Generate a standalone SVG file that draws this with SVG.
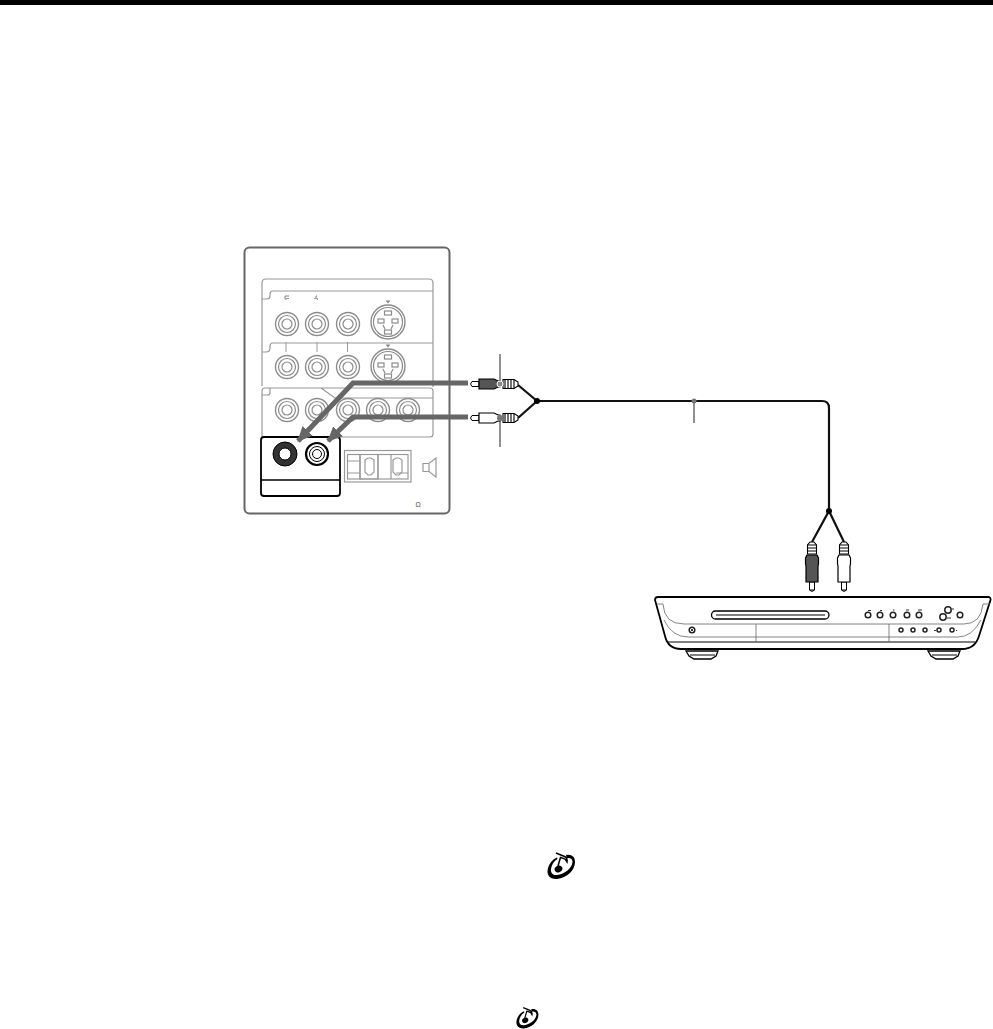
<svg xmlns="http://www.w3.org/2000/svg" width="993" height="1029" viewBox="0 0 993 1029">
<style>
.g{fill:none;stroke:#8c8c8c;stroke-width:1.2}
.gj{fill:#fff;stroke:#8c8c8c;stroke-width:1.4}
.frame{fill:none;stroke:#999;stroke-width:1.2}
.k{fill:none;stroke:#000;stroke-width:2}
.cable{fill:none;stroke:#111;stroke-width:2.2}
.lead{fill:none;stroke:#777;stroke-width:1.6}
.arrow{fill:none;stroke:#666;stroke-width:5}
.line{fill:none;stroke:#000;stroke-width:1.2}
.thin{fill:none;stroke:#666;stroke-width:.8}
.btn{fill:#fff;stroke:#222;stroke-width:1.5}
</style>
<defs>
<marker id="ah" markerUnits="userSpaceOnUse" markerWidth="18" markerHeight="16" refX="14" refY="7" orient="auto"><path d="M0 0L15 7L0 14Z" fill="#666"/></marker>
<g id="jack"><circle r="11.5" class="gj"/><circle r="8.5" class="g"/><circle r="5" class="g"/></g>
<g id="svid"><circle r="17" class="gj"/><circle r="14.5" class="g"/><g class="g"><rect x="-3.5" y="-11" width="7" height="4"/><rect x="-10" y="-3" width="6" height="4"/><rect x="4" y="-3" width="6" height="4"/><rect x="-10" y="5" width="0" height="0"/><rect x="-3.5" y="8" width="7" height="4"/><path d="M-5 3L-3 7M5 3L3 7"/></g><path d="M-2.500-21.500h5l-2.500 3z" fill="#888"/></g>
<g id="plugH"><path d="M2 -2.500H9V2.500H2Q-1 0 2-2.500Z" fill="#fff" stroke="#000"/><path d="M9-5H24L28-3H30V3H28L24 5H9Z" stroke="#000" stroke-width="1.200"/><g stroke="#000" stroke-width="1.100"><path d="M33-4.500H44L48-2V2L44 4.500H33Z" fill="#fff"/><path d="M35-4.500V4.500M38-4.500V4.500M41-4.500V4.500M44-4.500V4.500"/></g></g>
<g id="plugV"><path d="M-2.500 48H2.500V40H-2.500ZM-2.500 48Q0 51 2.500 48" fill="#fff" stroke="#000"/><path d="M-6 40V24L-6.500 22V16L-5 13H5L6.500 16V22L6 24V40Z" stroke="#000" stroke-width="1.200"/><g stroke="#000" stroke-width="1.100" fill="#fff"><path d="M-4.500 12V3L-2 0H2L4.500 3V12Z"/><path d="M-4.500 3H4.500M-4.500 6H4.500M-4.500 9H4.500" fill="none"/></g></g>
<g id="note"><path d="M19 4C25 3 28 6 28 11C28 19 20 27 10 28C3 28.500 -1 24 1 17C2.500 12 6 8 10 6.500L10.500 8C7 10 4.500 14 4 18C3.500 22 6 24.500 10 24C18 23 25 17 25.500 11C25.700 8 23.500 6.500 19.500 7Z" fill="#000"/><path d="M9 2L17.500 5.500C19.500 6.500 20.500 8.500 20 11L18.500 8.500C17 7.500 15.500 7 13.500 6.500L11 15" fill="none" stroke="#000" stroke-width="1.500"/><ellipse cx="11.500" cy="18" rx="4" ry="3.200" transform="rotate(-25 11.500 18)" fill="#000"/></g>
</defs>
<rect id="top-bar" x="0" y="0" width="993" height="5" fill="#000"/>
<g id="panel">
<rect x="244.500" y="247.500" width="205" height="266" rx="5" fill="#fff" stroke="#666" stroke-width="2"/>
<path class="frame" d="M262 386V283Q262 279 266 279H429Q433 279 433 283V387M433 291H273Q270 291 270 294V296Q270 299 267 299H262"/>
<path class="frame" d="M262 352H266Q270 352 270 348V346Q270 343 273 343H433"/>
<path class="frame" d="M262 437V391Q262 388 265 388H430Q433 388 433 391V434Q433 437 430 437H340M270 388V393Q270 395 267 395H262M321 388L335 398H433"/>
<path class="thin" d="M286 300.500V297H290M318 297H317V300" transform="translate(-1,-1)" stroke="#777"/>
<path d="M286 300V298.500H289M314 298.500H317.500V300M286 342V352M317 342V352M347.500 342V352" fill="none" stroke="#999"/>
<use href="#jack" x="287" y="324"/><use href="#jack" x="317" y="324"/><use href="#jack" x="348" y="324"/>
<use href="#svid" x="388" y="322"/>
<use href="#jack" x="287" y="367"/><use href="#jack" x="317" y="367"/><use href="#jack" x="348" y="367"/>
<use href="#svid" x="388" y="366"/>
<use href="#jack" x="287" y="410"/><use href="#jack" x="317" y="410"/><use href="#jack" x="348" y="410"/><use href="#jack" x="378" y="410"/><use href="#jack" x="408" y="410"/>
<rect x="261" y="437" width="79" height="59" rx="3" fill="#fff" stroke="#000" stroke-width="1.800"/>
<path d="M261 480H340" stroke="#000" stroke-width="1.500"/>
<circle cx="285" cy="454" r="12" fill="#333" stroke="#000"/><circle cx="285" cy="454" r="6" fill="#fff" stroke="#000"/>
<circle cx="317" cy="454" r="11" fill="#fff" stroke="#000" stroke-width="2.200"/><circle cx="317" cy="454" r="7.500" fill="none" stroke="#000"/><circle cx="317" cy="454" r="4.500" fill="#fff" stroke="#000"/>
<g fill="none" stroke="#999" stroke-width="1.200">
<rect x="344.500" y="450.500" width="66.500" height="31.500"/>
<rect x="347.500" y="454.500" width="60.500" height="24.500"/>
<path d="M360 454.500V479M378 454.500V479M391 454.500V479"/>
<path d="M347.500 473H360M396 473H408M347.500 461H360"/>
<path d="M360 454.500H378V479H360ZM378 454.500V479"/>
<path d="M365 460L368 458H371L374 460V472L371 475H368L365 472ZM393 460L396 458H399L402 460V472L399 475H396L393 472Z" transform="translate(0,0)"/>
<path d="M423 463.500H429L436 458V477L429 471.500H423ZM429 463.500V471.500"/>
</g>
<text x="418" y="506.500" font-family="Liberation Sans, sans-serif" font-size="7" fill="#555" text-anchor="middle">Ω</text>
</g>
<g id="connectors">
<path class="arrow" d="M468 383H353L298 441" marker-end="url(#ah)"/>
<path class="arrow" d="M468 417H353L328 441" marker-end="url(#ah)"/>
<path class="cable" d="M518 385L537 401L518 418M537 401H822Q829 401 829 408V511M812 542L829 511L844 542"/>
<circle cx="537" cy="401" r="3" fill="#000"/>
<circle cx="829" cy="511" r="3" fill="#000"/>
<path class="lead" d="M500 354V384M500 418V447M694 401V423"/>
</g>
<g id="plug-black-left"><use href="#plugH" x="470" y="384" fill="#555"/><circle cx="500" cy="384" r="3" fill="#888" stroke="#fff"/></g>
<g id="plug-white-left"><use href="#plugH" x="470" y="418" fill="#fff"/><circle cx="500" cy="418" r="3" fill="#777"/></g>
<circle id="cable-dot" cx="694" cy="401" r="2.500" fill="#777"/>
<g id="plug-black-right"><use href="#plugV" x="812" y="542" fill="#555"/></g>
<g id="plug-white-right"><use href="#plugV" x="844" y="542" fill="#fff"/></g>
<g id="device">
<path d="M722 597L725 600H736L739 597M743 597L746 600H757L760 597M763 597L766 600H778L781 597M783 597L786 600H798L801 597M803 597L806 600H816L818 597" fill="#fff" stroke="#000" stroke-width="1.300"/>
<path d="M658 597H988Q991 597 990.500 600L979 636Q975 649 962 649H681Q668 649 665 636L655 600Q655 597 658 597Z" fill="#fff" stroke="#000" stroke-width="1.800"/>
<path class="line" d="M668 642H975" stroke-width="1.500"/>
<path class="thin" d="M663 604Q664 624 684 624H964Q981 624 983 604M664 620Q672 637 688 637H958Q972 637 981 620M657 604H663M983 604H990M756 624V642M889 624V642"/>
<rect x="711.500" y="611" width="117.500" height="8" rx="4" fill="#fff" stroke="#000" stroke-width="1.300"/>
<path d="M716 615H825" stroke="#000" stroke-width="1.200"/>
<g class="btn">
<circle cx="868" cy="615" r="2.800"/><circle cx="880" cy="615" r="2.800"/><circle cx="893" cy="615" r="2.800"/><circle cx="907" cy="615" r="2.800"/><circle cx="919" cy="615" r="2.800"/>
<circle cx="948" cy="610" r="3.200"/><circle cx="943" cy="617" r="3.200"/><circle cx="960" cy="615" r="2.800"/>
<circle cx="901" cy="630" r="2"/><circle cx="913" cy="630" r="2"/><circle cx="925" cy="630" r="2"/><circle cx="939" cy="630" r="2"/><circle cx="952" cy="630" r="2"/>
<circle cx="692" cy="630" r="2.800"/>
</g>
<circle cx="692" cy="630" r="1" fill="#000"/>
<path d="M868 610.500h3M880 610.500h2M893 610h1.500M906 610h3M918 610h4M952 609h2M947 618h4M934 630.500h2M956 630.500h1" stroke="#333" stroke-width="1" fill="none"/>
<path d="M686 651H718L716 656L711 659H694L689 656ZM928 651H960L958 656L953 659H936L931 656Z" fill="#fff" stroke="#000" stroke-width="1.300"/>
<path d="M690 655H715M932 655H957" stroke="#000" fill="none"/>
</g>
<use id="note-1" href="#note" x="547" y="851"/>
<use id="note-2" href="#note" transform="translate(516 1006) scale(.8)"/>
</svg>
